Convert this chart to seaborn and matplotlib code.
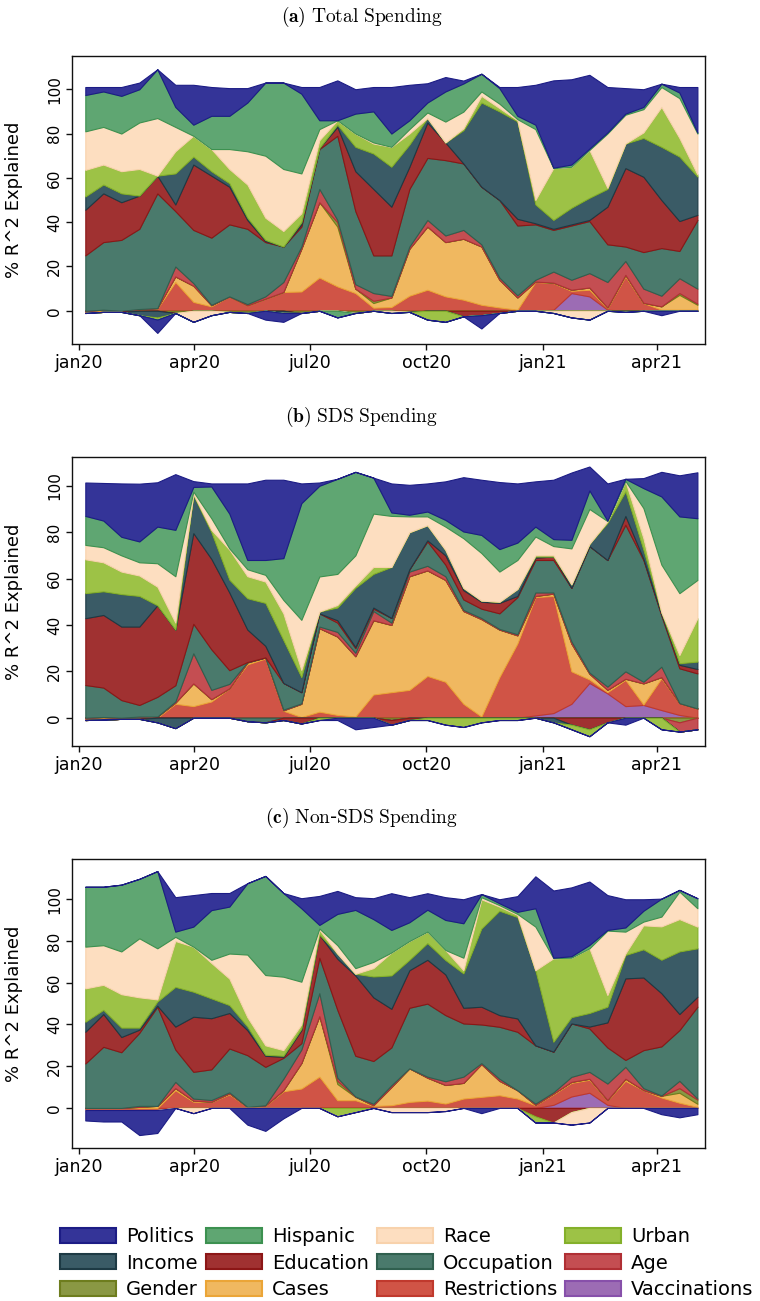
import numpy as np
import pandas as pd
import matplotlib
matplotlib.use("Agg")
import matplotlib.pyplot as plt
from matplotlib.patches import Patch
import seaborn as sns

# ---------------- data ----------------
START_DATE = "2020-01-06"
END_DATE = "2021-05-03"
N_POINTS = 35

# stacking order, bottom -> top
SERIES = ["Vaccinations", "Restrictions", "Cases", "Gender", "Age", "Occupation",
          "Education", "Income", "Urban", "Race", "Hispanic", "Politics"]

# (a) Total Spending
a_vaccinations = [0]*26 + [0.5, 8, 6.5, 0.5, 0, 0, 0, 0, 0]
a_restrictions = [-1, -0.5, -0.5, 0.3, 1, 13, 4, 2, 6.5, 2.5, 5.5, 8.5, 8.7, 15, 11, 8, 1.4, 1.7, 6.8, 9.5,
                  6.5, 5, 2.7, 1.5, 0.5, 13, 12, 1, 3, 0.7, 15.5, 3.5, 0.5, 0.5, 0.5]
a_cases = [0, 0.5, 0, 0.5, 0.2, 2.5, 7.3, 0.5, 0, 0, 0, 0, 19.3, 34, 27, 2, 2.1, 4.3, 21.2, 28.5,
           24.5, 27.5, 26.3, 12.5, 5.5, 0.2, 0.2, 0.5, 1, 0.3, 0.7, 0.1, 1.5, 6.7, 2.2]
a_gender = [0, 0, 0, 0, 0, -1, 0, 0, -0.5, -1, 0, 0, -1, 0, 2, -1, 1, 0, -0.5, 0,
            0, 0, 0, 0, 0, 0, 0, 0, 0, 0, 0, 0, 0, 0.8, 0.5]
a_age = [0, 0, 0, 0, 0, 4.5, 1.2, 0.2, 0, 0.5, 1, 4.5, 1, 6, 1, 2, 3.5, 0.7, 1, 3,
         3, 4, 1, 1, 1, 0.8, 5, 4.5, 6.5, 11.5, 6.3, 6.4, 4.8, 6.7, 6.8]
a_occupation = [25, 30.5, 32, 36.2, 51.8, 25, 24, 30.3, 32.5, 34, 24.5, 16, 9, 18, 38, 33, 17, 18.3, 26, 28,
                34, 30, 26, 35, 31.5, 25, 18.8, 24.5, 23.5, 17, 6.5, 16.5, 21.5, 12.3, 31]
a_education = [20.6, 22, 17, 15, 8, 3, 29.5, 28, 17, 4, 0.5, 0, 1, 0.5, 4, 18, 30, 22, 10, 16,
               8, -2.5, -2, -1, 3, 0.5, 0.5, 0.5, 0.5, 17, 35.4, 34, 21.7, 13.5, 2.3]
a_income = [6, 4, 4, -2, -3, 14, 3.6, 2, 1.6, 1, 0.5, -1, 1, 0, 1, 11, 16, 18, 10, 2,
            0, 15, 38, 40, 44, 8.5, 4, 7.5, 10, 8, 11.1, 17.5, 24, 29.1, 17.3]
a_urban = [12, 9, 10, 12, -1, 10, 9.4, 10, 6.4, 15, 10, 7, 4, 3.5, 2, 6, 4.5, 9, 5, -4,
           -5, 0.8, 3, 1.5, 0.5, 2, 23.4, 18.5, 21.6, 0.5, -0.5, 2.5, 18, 8.4, 1]
a_race = [17.4, 17, 17, 21, 26, 11, -5, -2, 9, 15, 28, 28, 18, 5, 0, 0, 0.5, -1, 2, 2.5,
          9.4, 7.6, 2, 2, 0.5, 32, -1, -3, -4, 24.5, 13, 10.5, 9, 18, 18.4]
a_hispanic = [16.4, 16, 17, 15, 22, 9, 5, 15, 15, 22, 33, 39, 36, 4, -3, 9, 14, 6, 4, 4.5,
              13.6, 12.7, 8, 7, 1.5, 2, 0.2, 1, 0.6, 0.5, 0.5, 1, 1.5, 2.5, 0.5]
a_politics = [3.6, 2, 4, 3, -6, 10, 18, 13, 12.5, 6.5, -4, -4, 3, 15, 18, 11, 11, 21, 16, 8.7,
              6.5, 1.3, -6, 0.5, 13, 18, 39.4, 38.5, 33.3, 20.5, 11.5, 8, -2, 2.5, 20.5]

# (b) SDS Spending
b_vaccinations = [0]*25 + [1, 2, 6, 15, 10.5, 5, 5.5, 3.3, 1.2, 0]
b_restrictions = [-1, -0.8, -0.5, -0.5, 0, 6, 5, 7, 12.7, 23, 25.5, 3, 0.3, 2.6, 1.2, 0.5, 10, 11, 12, 18,
                  15.5, 6, 0.5, 17.5, 32, 51, 50.5, 14, 1.5, 0.5, 11.3, 0.2, 13.7, 5, 4]
b_cases = [0, 0.3, 0, 0.5, 0.5, 0.5, 9.8, 1, 0, 0.8, 0.5, 0.2, 5.7, 36, 33.8, 26, 32, 29, 49, 45.5,
           43.9, 40, 42, 20.5, 3.5, 0.5, 1, 12, 2.5, 1, 0.5, 9.1, 0.5, 0.1, 0]
b_gender = [0]*17 + [-1] + [0]*15 + [-2, 0]
b_age = [0, 0, 0, 0, 0, 0.5, 13, 4, 1.9, 0.2, 0, 0.3, 0.2, 0.7, 2, 1.5, 4, 1, 2, 2,
         1.6, 0.5, 0.5, 0.3, 0.5, 1.5, 0.5, 1, 0.5, 1.4, 3.2, 0.7, 4.5, -4, -5]
b_occupation = [14.1, 12.7, 7.6, 5, 8.5, 7, 12.7, 17.5, 5.9, -1.5, -2, 11.5, 4.8, 5.7, 4, 2, 1, 2, 1, 10.5,
                5, 4.5, 4, 6.7, 16, 14, 14, 23, 54.5, 54.6, 63.2, 52.5, 22, 15, 15.1]
b_education = [28.8, 31.3, 31.7, 33.8, 39.5, 24, 39.1, 39, 33.5, 14, 5, -1, -2.5, 0, 1, 0.5, 0.5, -2, -1, 0.5,
               4, 4, 3, 4.5, 0.5, 1, 1.5, -3, -5, -2, 3.8, 0.5, 0.5, 1.5, 1.9]
b_income = [10.8, 10.2, 14, 13.2, -2, -4.5, 16.4, 11.5, 5.5, 13.5, 18.5, 18.5, 6.5, 0.8, 5.5, 25.5, 14.5, 22, 16, 6.5,
            2.4, 1, 0.5, 0.5, 3, 0.5, -2, 1.5, 1, 16, 10.6, 3.9, 1, 0.7, 3.2]
b_urban = [14.6, 12.5, 9.7, 8.8, 8, 3, 0.5, 1, 13, 9.5, 9.2, 11.5, 3.1, -1, 1.1, 1, 3, 0, 0, -1,
           -3, -4, -2, -1, -1, 0.5, 0.5, -2, -3, 0.6, 4.4, 5, -5, 3.5, 18.7]
b_race = [6.2, 6.5, 7, 5.7, 10.1, 20, 1, 5, 0.5, 3, 2.9, 5.8, 21.6, 15.1, 13.4, 13, 23, 22, 6.8, 3.8,
          10, 21.4, 20.5, 13, 12.5, 8.1, 4, 15.5, 15, 0.2, 0.1, 13, 20.5, 26.7, 16.5]
b_hispanic = [12.5, 11.5, 8, 9, 15.8, 20, 2, 13.7, 15, 4, 6.4, 18, 50.3, 39.1, 41, 36, 15.5, 1.5, 0.7, 2.1,
              2.9, 2.9, 7.8, 9.7, 7.5, 4.3, 3, 3.7, 8, 0.2, 0.9, 8.6, 29.4, 33.1, 26.6]
b_politics = [14.4, 16.2, 23, 24.9, 19.1, 24, 2.5, 1.3, 13, 33, 34.6, 33.8, 8.5, 1.4, -1, -5, -4, 12.5, 12.9, 12.1,
              16.6, 23.4, 23.8, 28.9, 25.5, 19.5, 25.6, 29, 10.3, 16, -3, 4.3, 10.6, 17.7, 19.8]

# (c) Non-SDS Spending
c_vaccinations = [0]*26 + [1.5, 5.5, 7.3, 1.5, 0, 0, 0, 0, 0]
c_restrictions = [-1, -1, -1, -1, -1, 8.5, 3, 2.9, 6.5, 0.5, 1, 8, 9.3, 15, 3.7, 3.7, 1, 1.3, 2.9, 3.5,
                  2.1, 4.5, 5.3, 6.1, 4.5, 1.3, 5, 6.5, 6.2, 2.2, 13, 8.5, 5, 2.5, 0.5]
c_cases = [0, 0, 0, 0.5, 1, 1, 0.5, 0.1, 0.5, 0, 0.2, 0.5, 12.2, 29, 7.8, 1.6, 0.3, 8.7, 16.1, 11,
           8.9, 7.5, 15.7, 6.9, 4, 0.2, 0.4, 0.5, 0.5, 0.1, 1, 0.1, 0.8, 4.8, 1.5]
c_gender = [0]*14 + [1.5, 0.2] + [0]*17 + [2.2, 2]
c_age = [0, 0, 0, 0.5, 0, 3, 1, 0.8, 0.5, 0, 0.1, 5.5, 6.5, 11, 1.5, 0, 0.7, 0.9, 0, 0.5,
         1.8, 3, 0.5, 1, 0, 0.6, 0.6, 2.4, 3.3, 7.9, 5.7, 0.9, 0.2, 3.5, 0.5]
c_occupation = [21.3, 29.3, 26.7, 35, 47.5, 15.5, 12.8, 14.7, 21, 24.8, 18.4, 10, 3, 17, 32.5, 19.5, 20.5, 18.1, 29, 35,
                31.7, 25.5, 18.5, 24.9, 28, 27.9, 19.5, 25.6, 20.8, 17.3, 3.3, 18.2, 23.5, 24.3, 44]
c_education = [15.2, 15.7, 7.3, 1.5, 0.5, 11, 26.4, 24.5, 17, 12, 5.3, 0.5, 6.3, 11, 24.5, 38.5, 30.5, 18.5, 18, 21,
               19.5, 7.5, 8.5, 5.6, 6.4, -4, -7, -2, 0.9, 12, 39.1, 34.8, 25.5, 7.7, 4.8]
c_income = [4.8, 2, 4.5, 1, 2, 19, 12, 9.5, 3.8, 1.7, 0.5, 0.5, 0.7, 0.1, 2.5, 0.8, 10, 16, 5, 8,
            6.9, 16.5, 37.5, 50, 48.6, 36, 4.7, 3, 6.5, 7.5, 11.2, 13.5, 16, 30, 23.2]
c_urban = [16, 12, 16, 14.5, 1, 22, 21.6, 17, 12.7, 4.5, 4.5, 2.7, 2, 2.3, -4, -2, 4, 11, 9, 5.5,
           4.8, 1.5, 14, 2, 1, -3, 40, 28.5, 31, 5.6, 0.7, 11.5, 16, 15.5, 10.4]
c_race = [20, 19, 20.5, 28.3, 24.5, 2, -2.5, 1.5, 12, 30, 33.7, 35.2, 20.5, 0.6, 4, 2.7, 3, -2, -2, -2,
          -1.5, 6, 1, 0.7, 0.5, 20.9, 0.1, -6, -7, 30.9, 10.5, 1.8, 4.7, 13.2, 8.8]
c_hispanic = [28.7, 28, 32, 28.5, 37, 2.5, 9.6, 23.8, 22.5, 34.2, 47.5, 40.1, 35.2, 1.7, 15, 27.9, 20.5, 10.8, 9, 10.5,
              14.4, 16.5, 1.5, 0.9, 1, 8.8, 0.2, 0.7, 1.6, 0.3, 2, 5.2, 8.6, 0.8, 4.8]
c_politics = [-5, -5.5, -5.5, -12, -11, 16.5, 15.1, 8.2, 6.5, -8, -11, -5, 4.8, 13.9, 11, 6.1, 10, 17.6, 12, 7.9,
              10.9, 11.5, -2.5, 1.9, 7.5, 15.3, 32.2, 33, 30.4, 16.7, 13.5, 5.5, -3, -4.5, -3]

PANEL_TITLES = [r"$\mathbf{(a)}\ \mathrm{Total\ Spending}$",
                r"$\mathbf{(b)}\ \mathrm{SDS\ Spending}$",
                r"$\mathbf{(c)}\ \mathrm{Non}$-$\mathrm{SDS\ Spending}$"]
TICK_DATES = ["2020-01-01", "2020-04-01", "2020-07-01", "2020-10-01", "2021-01-01", "2021-04-01"]
TICK_LABELS = ["jan20", "apr20", "jul20", "oct20", "jan21", "apr21"]
Y_TICKS = [0, 20, 40, 60, 80, 100]
Y_LABEL = "% R^2 Explained"

PANELS = [
    [a_vaccinations, a_restrictions, a_cases, a_gender, a_age, a_occupation,
     a_education, a_income, a_urban, a_race, a_hispanic, a_politics],
    [b_vaccinations, b_restrictions, b_cases, b_gender, b_age, b_occupation,
     b_education, b_income, b_urban, b_race, b_hispanic, b_politics],
    [c_vaccinations, c_restrictions, c_cases, c_gender, c_age, c_occupation,
     c_education, c_income, c_urban, c_race, c_hispanic, c_politics],
]

# ---------------- style ----------------
FACE = {
    "Politics": "#343498", "Hispanic": "#5fa672", "Race": "#fddec0", "Urban": "#9dc246",
    "Income": "#3a5b66", "Education": "#a03131", "Occupation": "#4a7a6c", "Age": "#c44e52",
    "Gender": "#8a9844", "Cases": "#f0b860", "Restrictions": "#d05446", "Vaccinations": "#9c6cb4",
}
EDGE = {
    "Politics": "#1c1c85", "Hispanic": "#3c9150", "Race": "#f8d2ac", "Urban": "#84b02a",
    "Income": "#1d3a44", "Education": "#8c1616", "Occupation": "#30604f", "Age": "#b02f34",
    "Gender": "#6e7d1e", "Cases": "#eba537", "Restrictions": "#c0392d", "Vaccinations": "#8750aa",
}
LEGEND_ORDER = ["Politics", "Income", "Gender", "Hispanic", "Education", "Cases",
                "Race", "Occupation", "Restrictions", "Urban", "Age", "Vaccinations"]

sns.set_style("ticks")
plt.rcParams["font.family"] = ["DejaVu Sans"]
plt.rcParams["mathtext.fontset"] = "cm"
plt.rcParams["axes.edgecolor"] = "#111111"
plt.rcParams["axes.linewidth"] = 1.0
for key in ["text.color", "axes.labelcolor", "xtick.color", "ytick.color"]:
    plt.rcParams[key] = "black"

fig = plt.figure(figsize=(7.6, 13.01), dpi=100)
H = 1301.0
W = 760.0
axes_px = [(56, 344), (457, 746), (859, 1148)]
title_y_px = [17, 417, 818]
ylims = [(-15, 115), (-12.2, 112.4), (-19.2, 119.3)]

x = pd.date_range(START_DATE, END_DATE, periods=N_POINTS)

for k, (panel, (top, bot)) in enumerate(zip(PANELS, axes_px)):
    ax = fig.add_axes([72 / W, 1 - bot / H, (705 - 72) / W, (bot - top) / H])
    pos = np.zeros(N_POINTS)
    neg = np.zeros(N_POINTS)
    for name, vals in zip(SERIES, panel):
        v = np.asarray(vals, dtype=float)
        p = np.clip(v, 0, None)
        n = np.clip(v, None, 0)
        ax.fill_between(x, pos, pos + p, facecolor=FACE[name], edgecolor=EDGE[name], linewidth=0.8)
        if np.any(n < 0):
            ax.fill_between(x, neg + n, neg, facecolor=FACE[name], edgecolor=EDGE[name], linewidth=0.8)
        pos = pos + p
        neg = neg + n
    ax.set_xlim(pd.Timestamp("2019-12-26 12:00"), pd.Timestamp("2021-05-09"))
    ax.set_ylim(*ylims[k])
    ax.set_xticks(pd.to_datetime(TICK_DATES))
    ax.set_xticklabels(TICK_LABELS, fontsize=12.5)
    ax.set_yticks(Y_TICKS)
    ax.set_yticklabels([str(t) for t in Y_TICKS], fontsize=11, rotation=90, va="center")
    ax.tick_params(axis="both", length=4, width=1, pad=3, color="#111111")
    ax.set_ylabel(Y_LABEL, fontsize=13)
    ax.yaxis.set_label_coords(-0.077, 0.5)
    for s in ax.spines.values():
        s.set_visible(True)
    fig.text(362 / W, 1 - title_y_px[k] / H, PANEL_TITLES[k], ha="center", va="center", fontsize=14)

handles = [Patch(facecolor=FACE[n], edgecolor=EDGE[n], linewidth=1.5) for n in LEGEND_ORDER]
fig.legend(handles, LEGEND_ORDER, ncol=4, loc="lower center", bbox_to_anchor=(0.535, -0.0055),
           frameon=False, fontsize=14, handlelength=2.9, handleheight=0.8, handletextpad=0.5,
           columnspacing=0.4, labelspacing=0.4, borderaxespad=0.05)

fig.savefig("out.png", dpi=100)
